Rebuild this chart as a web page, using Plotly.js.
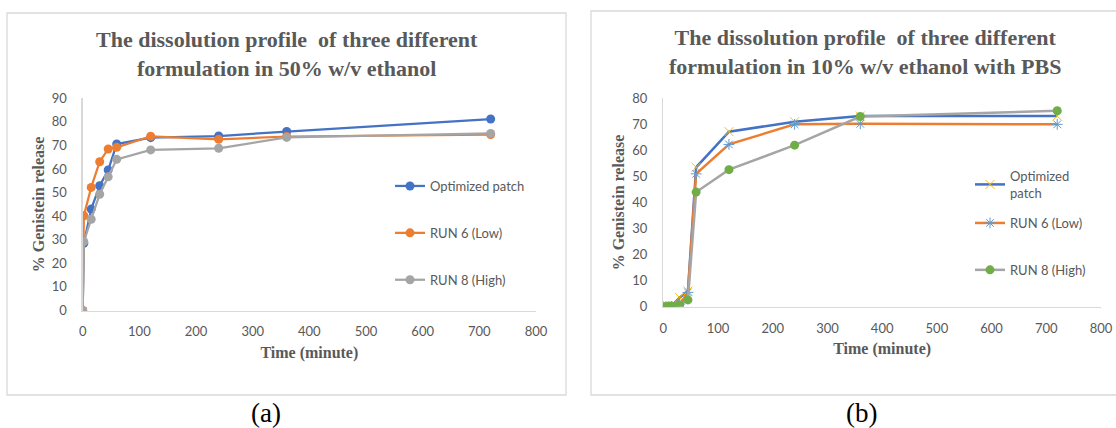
<!DOCTYPE html>
<html>
<head>
<meta charset="utf-8">
<script src="https://cdn.plot.ly/plotly-3.0.1.min.js"></script>
<style>html,body{margin:0;padding:0;background:#fff;}#chart{width:1116px;height:428px;}</style>
</head>
<body>
<div id="chart"></div>
<script>
// ---- Data: panel (a) 50% w/v ethanol ----
const timeA  = [0, 2, 15, 30, 45, 60, 120, 240, 360, 720];
const optA   = [0, 28.5, 43.0, 52.9, 59.6, 70.6, 73.3, 74.0, 75.9, 81.2];
const run6A  = [0, 40.2, 52.2, 63.1, 68.5, 69.2, 73.9, 72.6, 73.8, 74.6];
const run8A  = [0, 29.2, 38.7, 49.3, 56.7, 64.1, 68.1, 68.8, 73.4, 75.1];

// ---- Data: panel (b) 10% w/v ethanol with PBS ----
const timeB  = [0, 5, 10, 15, 30, 45, 60, 120, 240, 360, 720];
const optB   = [0, 0, 0, 0.3, 3.5, 6.0, 53.5, 67.2, 71.0, 73.2, 73.2];
const run6B  = [0, 0, 0, 0, 1.0, 5.5, 51.0, 62.3, 70.0, 70.2, 70.0];
const run8B  = [0, 0, 0.2, 0.3, 0.7, 2.6, 44.0, 52.6, 62.0, 73.0, 75.2];

const seriesNamesA = ["Optimized patch", "RUN 6 (Low)", "RUN 8 (High)"];
const seriesNamesB = ["Optimized<br>patch", "RUN 6 (Low)", "RUN 8 (High)"];
const xTicks = [0, 100, 200, 300, 400, 500, 600, 700, 800];
const yTicksA = [0, 10, 20, 30, 40, 50, 60, 70, 80, 90];
const yTicksB = [0, 10, 20, 30, 40, 50, 60, 70, 80];
const titleA = "The dissolution profile  of three different<br>formulation in 50% w/v ethanol";
const titleB = "The dissolution profile  of three different<br>formulation in 10% w/v ethanol with PBS";
const xTitle = "Time (minute)";
const yTitle = "% Genistein release";
const panelA = "(a)", panelB = "(b)";

const W = 1116, H = 428;
const px = v => v / W, py = v => (H - v) / H;

const BLUE = "#4472C4", ORANGE = "#ED7D31", GREY = "#A5A5A5";
const YELLOW = "#FFC000", LBLUE = "#5B9BD5", GREEN = "#70AD47";
const TXT = "#595959", AX = "#D9D9D9";

const traces = [
  {x: timeA, y: optA, name: seriesNamesA[0], mode: "lines+markers", xaxis: "x", yaxis: "y",
   line: {color: BLUE, width: 2.25}, marker: {color: BLUE, size: 9}, legend: "legend", legendgroup: "a1"},
  {x: timeA, y: run6A, name: seriesNamesA[1], mode: "lines+markers", xaxis: "x", yaxis: "y",
   line: {color: ORANGE, width: 2.25}, marker: {color: ORANGE, size: 9}, legend: "legend", legendgroup: "a2"},
  {x: timeA, y: run8A, name: seriesNamesA[2], mode: "lines+markers", xaxis: "x", yaxis: "y",
   line: {color: GREY, width: 2.25}, marker: {color: GREY, size: 9}, legend: "legend", legendgroup: "a3"},
  {x: timeB, y: optB, name: seriesNamesB[0], mode: "lines+markers", xaxis: "x2", yaxis: "y2",
   line: {color: BLUE, width: 2.5}, marker: {symbol: "x-thin-open", size: 9, color: YELLOW, line: {color: YELLOW, width: 1}},
   legend: "legend2", legendgroup: "b1"},
  {x: timeB, y: run6B, name: seriesNamesB[1], mode: "lines+markers", xaxis: "x2", yaxis: "y2",
   line: {color: ORANGE, width: 2.5}, marker: {symbol: "asterisk-open", size: 9, color: LBLUE, line: {color: LBLUE, width: 1}},
   legend: "legend3", legendgroup: "b2"},
  {x: timeB, y: run8B, name: seriesNamesB[2], mode: "lines+markers", xaxis: "x2", yaxis: "y2",
   line: {color: GREY, width: 2.5}, marker: {color: GREEN, size: 9}, legend: "legend3", legendgroup: "b3"}
];

const axFont = {family: "Lato, 'Liberation Sans', sans-serif", size: 13, color: TXT};
const serifBold = {family: "'Liberation Serif', 'Times New Roman', serif", size: 16, color: TXT, weight: "bold"};

function xAx(dom, anchor) {
  return {domain: dom, range: [0, 800], tickvals: xTicks, showgrid: false, zeroline: false,
    showline: true, linecolor: AX, linewidth: 1.3, ticks: "", tickfont: axFont, ticklabelstandoff: 9,
    anchor: anchor, fixedrange: true,
    title: {text: "<b>" + xTitle + "</b>", font: serifBold, standoff: 8}};
}
function yAx(dom, anchor, rng, tv) {
  return {domain: dom, range: rng, tickvals: tv, showgrid: false, zeroline: false,
    showline: true, linecolor: AX, linewidth: 1.3, ticks: "", tickfont: axFont, ticklabelstandoff: 12,
    anchor: anchor, fixedrange: true,
    title: {text: "<b>" + yTitle + "</b>", font: serifBold, standoff: 3}};
}

const legFont = {family: "Lato, 'Liberation Sans', sans-serif", size: 13, color: TXT};
const legBase = {xanchor: "left", yanchor: "top", font: legFont, bgcolor: "rgba(0,0,0,0)", itemwidth: 30};

const layout = {
  width: W, height: H, margin: {l: 0, r: 0, t: 0, b: 0},
  paper_bgcolor: "#fff", plot_bgcolor: "rgba(0,0,0,0)",
  showlegend: true,
  xaxis: xAx([px(82.7), px(536)], "y"),
  yaxis: yAx([py(310.5), py(98.3)], "x", [0, 90], yTicksA),
  xaxis2: xAx([px(663.3), px(1101)], "y2"),
  yaxis2: yAx([py(306.7), py(98.3)], "x2", [0, 80], yTicksB),
  legend: Object.assign({x: px(390), y: py(171), tracegroupgap: 27}, legBase),
  legend2: Object.assign({x: px(970), y: py(161), tracegroupgap: 0}, legBase),
  legend3: Object.assign({x: px(970), y: py(208), tracegroupgap: 27}, legBase),
  shapes: [
    {type: "rect", xref: "paper", yref: "paper", x0: px(7), x1: px(566), y0: py(395), y1: py(13),
     line: {color: AX, width: 1.3}, fillcolor: "rgba(0,0,0,0)", layer: "below"},
    {type: "rect", xref: "paper", yref: "paper", x0: px(591), x1: px(1120), y0: py(395), y1: py(11),
     line: {color: AX, width: 1.3}, fillcolor: "rgba(0,0,0,0)", layer: "below"}
  ],
  annotations: [
    {text: "<b>" + titleA + "</b>", xref: "paper", yref: "paper", x: px(287), y: py(54),
     xanchor: "center", yanchor: "middle", showarrow: false,
     font: {family: "'Liberation Serif', 'Times New Roman', serif", size: 22, color: TXT}},
    {text: "<b>" + titleB + "</b>", xref: "paper", yref: "paper", x: px(865), y: py(52.5),
     xanchor: "center", yanchor: "middle", showarrow: false,
     font: {family: "'Liberation Serif', 'Times New Roman', serif", size: 22, color: TXT}},
    {text: panelA, xref: "paper", yref: "paper", x: px(266), y: py(413), xanchor: "center", yanchor: "middle",
     showarrow: false, font: {family: "'Liberation Serif', 'Times New Roman', serif", size: 27, color: "#000"}},
    {text: panelB, xref: "paper", yref: "paper", x: px(861), y: py(413), xanchor: "center", yanchor: "middle",
     showarrow: false, font: {family: "'Liberation Serif', 'Times New Roman', serif", size: 27, color: "#000"}}
  ]
};

Plotly.newPlot("chart", traces, layout, {displayModeBar: false, staticPlot: true});
</script>
</body>
</html>
